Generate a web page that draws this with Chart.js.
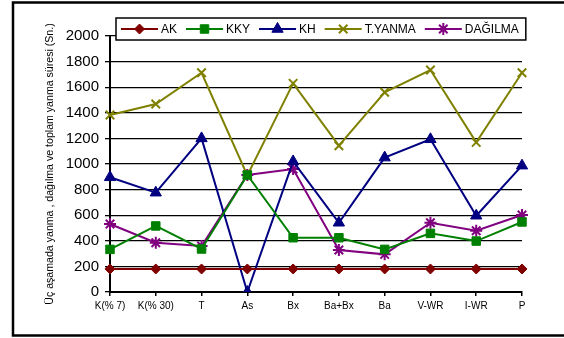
<!DOCTYPE html>
<html>
<head>
<meta charset="utf-8">
<script src="https://cdn.jsdelivr.net/npm/chart.js@4/dist/chart.umd.min.js"></script>
<style>
  html, body { margin: 0; padding: 0; background: #fff; }
  #wrap { position: relative; width: 564px; height: 338px; }
</style>
</head>
<body>
<div id="wrap"><canvas id="chart" width="564" height="338"></canvas></div>
<script>
// Categories and series
const categories = ['K(% 7)', 'K(% 30)', 'T', 'As', 'Bx', 'Ba+Bx', 'Ba', 'V-WR', 'I-WR', 'P'];
const akValues = [180, 180, 180, 180, 180, 180, 180, 180, 180, 180];
const kkyValues = [333, 516, 336, 914, 424, 424, 333, 458, 398, 547];
const khValues = [896, 776, 1200, 0, 1020, 541, 1050, 1193, 596, 987];
const tYanmaValues = [1383, 1469, 1713, 910, 1630, 1143, 1560, 1734, 1169, 1713];
const dagilmaValues = [531, 385, 359, 914, 960, 328, 294, 541, 479, 602];
const yTicks = { min: 0, max: 2000, step: 200 };

const FONT = 'Arial, "Liberation Sans", sans-serif';

function series(label, data, color, style, radius) {
  return {
    label, data,
    borderColor: color,
    backgroundColor: color,
    borderWidth: 2,
    pointStyle: style,
    pointRadius: radius,
    pointBorderWidth: style === 'crossRot' || style === 'star' ? 2 : 1,
    tension: 0
  };
}

// Frame around the whole picture + boxed legend with line-and-marker samples
const framePlugin = {
  id: 'frame',
  beforeDraw(chart) {
    const ctx = chart.ctx;
    ctx.save();
    ctx.fillStyle = '#fff';
    ctx.fillRect(0, 0, chart.width, chart.height);
    ctx.restore();
  },
  afterDraw(chart) {
    const ctx = chart.ctx;
    ctx.save();
    ctx.strokeStyle = '#000';
    ctx.lineWidth = 2.5;
    ctx.strokeRect(13, 2.5, 620, 333);

    // legend
    ctx.font = '12px ' + FONT;
    const lineLen = 37, gap = 3, spacing = 9;
    const items = chart.data.datasets;
    let total = 0;
    items.forEach((d, i) => {
      total += lineLen + gap + ctx.measureText(d.label).width + (i < items.length - 1 ? spacing : 0);
    });
    const boxL = 116, boxT = 18, boxH = 22;
    const boxW = total + 12;
    ctx.fillStyle = '#fff';
    ctx.fillRect(boxL, boxT, boxW, boxH);
    ctx.lineWidth = 1.5;
    ctx.strokeStyle = '#000';
    ctx.strokeRect(boxL, boxT, boxW, boxH);
    let x = boxL + 5;
    const cy = boxT + boxH / 2;
    items.forEach(d => {
      ctx.strokeStyle = d.borderColor;
      ctx.lineWidth = 2;
      ctx.beginPath();
      ctx.moveTo(x, cy);
      ctx.lineTo(x + lineLen, cy);
      ctx.stroke();
      ctx.fillStyle = d.backgroundColor;
      ctx.lineWidth = d.pointBorderWidth;
      Chart.helpers.drawPoint(ctx, {
        pointStyle: d.pointStyle,
        radius: d.pointRadius,
        rotation: 0,
        borderWidth: d.pointBorderWidth
      }, x + lineLen / 2, cy);
      ctx.fillStyle = '#000';
      ctx.textBaseline = 'middle';
      ctx.textAlign = 'left';
      const tx = x + lineLen + gap;
      ctx.fillText(d.label, tx, cy + 0.5);
      x = tx + ctx.measureText(d.label).width + spacing;
    });
    ctx.restore();
  }
};

new Chart(document.getElementById('chart'), {
  type: 'line',
  data: {
    labels: categories,
    datasets: [
      series('AK', akValues, '#800000', 'rectRot', 5),
      series('KKY', kkyValues, '#008000', 'rect', 6),
      series('KH', khValues, '#000080', 'triangle', 6.5),
      series('T.YANMA', tYanmaValues, '#808000', 'crossRot', 6),
      series('DAĞILMA', dagilmaValues, '#800080', 'star', 6)
    ]
  },
  options: {
    responsive: false,
    animation: false,
    layout: { padding: { left: 0, top: 36, right: 42, bottom: 0 } },
    plugins: {
      legend: { display: false },
      tooltip: { enabled: false }
    },
    scales: {
      x: {
        offset: false,
        afterFit: s => { s.height = 46; },
        grid: { drawOnChartArea: false, drawTicks: true, tickLength: 4, color: '#000', lineWidth: 1.5 },
        border: { color: '#000', width: 2 },
        ticks: { color: '#000', font: { family: FONT, size: 10 }, padding: 4, maxRotation: 0, autoSkip: false }
      },
      y: {
        min: yTicks.min,
        max: yTicks.max,
        afterFit: s => { s.width = 110; },
        grid: { color: '#000', lineWidth: 1.3, tickLength: 5 },
        border: { color: '#000', width: 2 },
        ticks: {
          stepSize: yTicks.step,
          color: '#000',
          font: { family: FONT, size: 15 },
          padding: 6,
          callback: v => String(v)
        },
        title: {
          display: true,
          text: 'Üç aşamada yanma , dağılma ve toplam yanma süresi (Sn.)',
          color: '#000',
          font: { family: FONT, size: 10.6 },
          padding: { top: 44, bottom: 0 }
        }
      }
    }
  },
  plugins: [framePlugin]
});
</script>
</body>
</html>
